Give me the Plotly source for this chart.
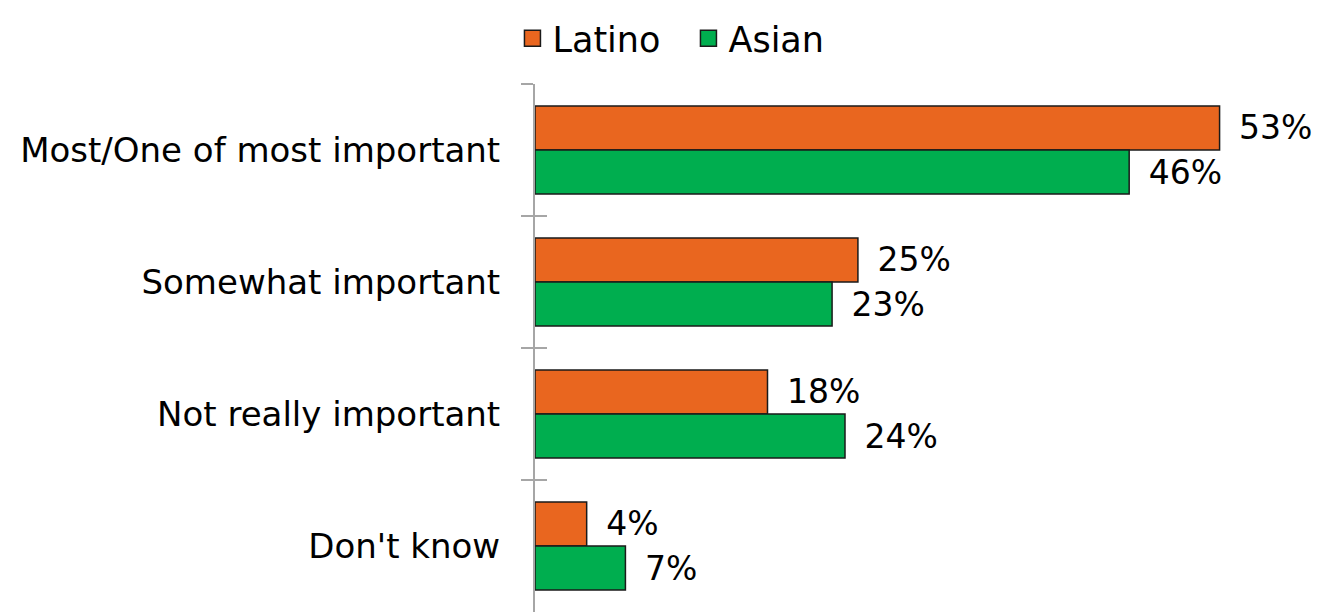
import plotly.graph_objects as go

categories = ['Most/One of most important', 'Somewhat important',
              'Not really important', "Don't know"]
latino = [53, 25, 18, 4]
asian = [46, 23, 24, 7]
series = [('Latino', latino, '#E9661F'), ('Asian', asian, '#00AE4F')]

FONT = 'DejaVu Sans'
AXIS_GREY = '#A6A6A6'

fig = go.Figure()

for name, values, color in series:
    fig.add_trace(go.Bar(
        y=categories,
        x=values,
        orientation='h',
        name=name,
        marker=dict(color=color, line=dict(color='#1A1A1A', width=1.5)),
        text=values,
        texttemplate='\u2002%{x}%',
        textposition='outside',
        textfont=dict(family=FONT, size=33, color='#000000'),
        cliponaxis=False,
        showlegend=False,
    ))
    # legend entry with a bigger square swatch
    fig.add_trace(go.Scatter(
        x=[None], y=[None],
        mode='markers',
        name=name,
        marker=dict(symbol='square', size=24, color=color,
                    line=dict(color='#1A1A1A', width=1.5)),
        showlegend=True,
    ))

# the page body has an 8px margin, so the margins below are shifted by that
fig.update_layout(
    width=1330,
    height=616,
    margin=dict(l=527, r=28, t=76, b=12, autoexpand=False),
    plot_bgcolor='white',
    paper_bgcolor='white',
    barmode='group',
    bargap=0.333,
    bargroupgap=0,
    font=dict(family=FONT, size=34, color='#000000'),
    legend=dict(
        orientation='h',
        x=0.198, y=1.142, xanchor='center', yanchor='top',
        font=dict(family=FONT, size=35, color='#000000'),
        itemsizing='trace',
        itemwidth=30,
        entrywidth=131,
        tracegroupgap=0,
    ),
)

fig.update_xaxes(
    range=[0, 60],
    visible=False,
    showgrid=False,
    zeroline=False,
)

fig.update_yaxes(
    type='category',
    categoryorder='array',
    categoryarray=categories,
    autorange='reversed',
    automargin=False,
    showline=True,
    linecolor=AXIS_GREY,
    linewidth=2,
    ticks='outside',
    tickson='boundaries',
    ticklen=12,
    tickwidth=2,
    tickcolor=AXIS_GREY,
    ticklabelstandoff=26,
    tickfont=dict(family=FONT, size=34, color='#000000'),
    showgrid=False,
)

# second axis only to draw the inner half of the crossing tick marks
fig.update_layout(yaxis2=dict(
    overlaying='y',
    type='category',
    categoryorder='array',
    categoryarray=categories,
    range=[len(categories) - 0.5, -0.5],
    automargin=False,
    ticks='inside',
    tickson='boundaries',
    ticklen=12,
    tickwidth=2,
    tickcolor=AXIS_GREY,
    showticklabels=False,
    showgrid=False,
    showline=False,
    side='left',
))
fig.add_trace(go.Scatter(y=categories, x=[0] * len(categories), mode='none',
                         yaxis='y2', showlegend=False, hoverinfo='skip'))

fig.write_html('out.html')
